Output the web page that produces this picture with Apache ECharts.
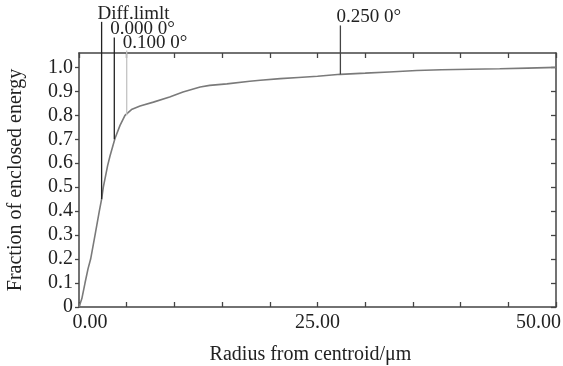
<!DOCTYPE html>
<html>
<head>
<meta charset="utf-8">
<script src="https://cdn.jsdelivr.net/npm/echarts@6/dist/echarts.min.js"></script>
<style>
  html, body { margin: 0; padding: 0; background: #fff; }
  #chart { width: 563px; height: 366px; }
</style>
</head>
<body>
<div id="chart"></div>
<script>
// enclosed energy curve
const radius = [0, 0.3, 0.63, 0.95, 1.22, 1.68, 2.13, 2.37, 2.55, 3.0, 3.25, 3.77, 4.3, 4.82, 5.5, 6.4, 7.8, 9.5, 10.9, 12.7, 13.7, 15.5, 17.9, 19.0, 21.1, 23.0, 25.0, 27.4, 30.0, 32.5, 35.4, 38.0, 41.0, 44.1, 47.0, 50.0];
const fraction = [0, 0.035, 0.1, 0.16, 0.2, 0.3, 0.4, 0.45, 0.5, 0.59, 0.63, 0.703, 0.758, 0.8, 0.824, 0.839, 0.855, 0.876, 0.897, 0.918, 0.925, 0.931, 0.942, 0.946, 0.953, 0.958, 0.963, 0.971, 0.976, 0.981, 0.987, 0.99, 0.992, 0.994, 0.997, 1.0];

// field markers: name, radius, where it meets the curve, top of the marker line
const markerNames = ["Diff.limlt", "0.000 0°", "0.100 0°", "0.250 0°"];
const markerRadius = [2.37, 3.7, 5.0, 27.4];
const markerLow = [0.45, 0.7, 0.8, 0.971];
const markerHigh = [1.19, 1.125, 1.07, 1.175];
const markerColors = ["#222", "#222", "#c4c4c4", "#444"];

const xTicks = [0, 25, 50];
const yTicks = [0, 0.1, 0.2, 0.3, 0.4, 0.5, 0.6, 0.7, 0.8, 0.9, 1.0];

const font = "Liberation Serif";
const axisColor = "#444";

let myChart = echarts.init(document.getElementById("chart"));

let markerSeries = markerNames.map((name, i) => ({
  type: "line",
  clip: false,
  silent: true,
  symbol: "none",
  lineStyle: { color: markerColors[i], width: 1.3 },
  data: [
    [markerRadius[i], markerLow[i]],
    {
      value: [markerRadius[i], markerHigh[i]],
      symbol: "circle",
      symbolSize: 1,
      itemStyle: { color: "transparent" },
      label: {
        show: true,
        position: "top",
        align: "left",
        distance: 0,
        offset: [-4, 2],
        formatter: name,
        color: "#222",
        fontFamily: font,
        fontSize: 19,
      },
    },
  ],
  z: 3,
}));

let option = {
  animation: false,
  grid: { left: 79, right: 7, top: 53, bottom: 59, outerBoundsMode: "none" },
  xAxis: [
    {
      type: "value",
      min: 0,
      max: 50,
      interval: 5,
      name: "Radius from centroid/μm",
      nameLocation: "middle",
      nameGap: 38,
      nameTextStyle: { color: "#222", fontFamily: font, fontSize: 20, padding: [0, 14, 0, 0] },
      splitLine: { show: false },
      axisLine: { onZero: false, lineStyle: { color: axisColor, width: 1.5 } },
      axisTick: { inside: true, length: 5, lineStyle: { color: axisColor, width: 1.3 } },
      axisLabel: {
        customValues: xTicks,
        formatter: (v) => (v === 0 ? "{first|0.00}" : v === 50 ? "{last|50.00}" : v.toFixed(2)),
        color: "#222",
        fontFamily: font,
        fontSize: 20,
        margin: 6,
        rich: {
          first: { fontFamily: font, fontSize: 20, color: "#222", padding: [0, 0, 0, 22] },
          last: { fontFamily: font, fontSize: 20, color: "#222", padding: [0, 35, 0, 0] },
        },
      },
    },
    {
      type: "value",
      position: "top",
      min: 0,
      max: 50,
      interval: 5,
      splitLine: { show: false },
      axisLine: { onZero: false, lineStyle: { color: axisColor, width: 1.5 } },
      axisTick: { inside: true, length: 5, lineStyle: { color: axisColor, width: 1.3 } },
      axisLabel: { show: false },
    },
  ],
  yAxis: [
    {
      type: "value",
      min: 0,
      max: 1.06,
      interval: 0.1,
      name: "Fraction of enclosed energy",
      nameLocation: "middle",
      nameGap: 53,
      nameTextStyle: { color: "#222", fontFamily: font, fontSize: 20 },
      splitLine: { show: false },
      axisLine: { onZero: false, lineStyle: { color: axisColor, width: 1.5 } },
      axisTick: { customValues: yTicks, length: 4, lineStyle: { color: axisColor, width: 1.3 } },
      axisLabel: {
        customValues: yTicks,
        formatter: (v) => (v === 0 ? "0" : v.toFixed(1)),
        color: "#222",
        fontFamily: font,
        fontSize: 20,
        margin: 6,
      },
    },
    {
      type: "value",
      position: "right",
      min: 0,
      max: 1.06,
      interval: 0.1,
      splitLine: { show: false },
      axisLine: { onZero: false, lineStyle: { color: axisColor, width: 1.5 } },
      axisTick: { customValues: yTicks, inside: true, length: 5, lineStyle: { color: axisColor, width: 1.3 } },
      axisLabel: { show: false },
    },
  ],
  series: [
    {
      type: "line",
      symbol: "none",
      silent: true,
      lineStyle: { color: "#7a7a7a", width: 1.6 },
      data: radius.map((r, i) => [r, fraction[i]]),
      z: 2,
    },
    ...markerSeries,
  ],
};
myChart.setOption(option);
</script>
</body>
</html>
